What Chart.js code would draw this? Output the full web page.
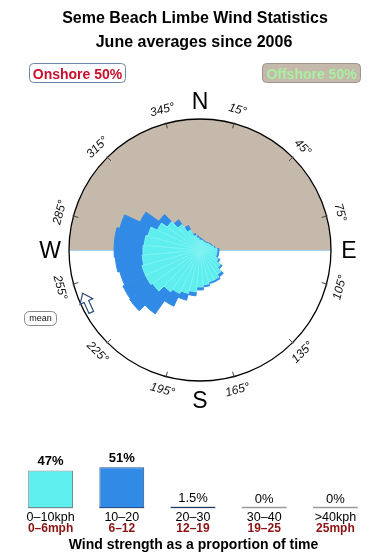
<!DOCTYPE html>
<html>
<head>
<meta charset="utf-8">
<script src="https://cdn.jsdelivr.net/npm/chart.js@4.4.1/dist/chart.umd.min.js"></script>
<style>
  body { margin: 0; background: #fff; }
  #wrap { position: relative; width: 390px; height: 560px; }
  #rose { position: absolute; left: 0; top: 0; }
  #bars { position: absolute; left: 0; top: 420px; }
</style>
</head>
<body>
<div id="wrap">
  <canvas id="rose" width="390" height="420"></canvas>
  <canvas id="bars" width="390" height="140"></canvas>
</div>
<script>
// rose: direction bins (degrees), extent as % of the circle radius
const directions = [0, 10, 20, 30, 40, 50, 60, 70, 80, 90, 100, 110, 120, 130, 140, 150, 160, 170,
  180, 190, 200, 210, 220, 230, 240, 250, 260, 270, 280, 290, 300, 310, 320, 330, 340, 350];
// 0-10 kph part
const rose0to10 = [7.6, 7.6, 6.9, 6.9, 6.9, 7.6, 8.4, 9.2, 10.7, 13, 13, 13, 15.3, 19.1, 22.9, 25.2, 25.2, 26.7,
  28.2, 32.1, 34.4, 36.6, 38.9, 44.3, 45.8, 45.8, 44.3, 43.5, 42.7, 41.2, 35.9, 30.5, 23.7, 16.8, 11.5, 9.2];
// 0-20 kph (outer edge of the dark blue)
const rose0to20 = [9.2, 8.4, 7.6, 7.6, 7.6, 8.4, 9.2, 9.9, 11.5, 14.5, 14.5, 14.5, 16.8, 20.6, 25.2, 26.7, 26.7, 28.2,
  30.5, 35.1, 39.7, 47.3, 59.5, 65.6, 64.9, 63.4, 64.9, 65.6, 65.6, 63.4, 50.4, 38.2, 28.2, 20.6, 13, 10.7];

const compassTicks = [15, 45, 75, 105, 135, 165, 195, 225, 255, 285, 315, 345];
const onshoreShare = 50;
const offshoreShare = 50;

// bottom bars
const kphLabels = ['0\u201310kph', '10\u201320', '20\u201330', '30\u201340', '>40kph'];
const mphLabels = ['0\u20136mph', '6\u201312', '12\u201319', '19\u201325', '25mph'];
const speedShares = [47, 51, 1.5, 0, 0];

const FONT = '"Liberation Sans", Arial, sans-serif';
const TAN = '#c4b9ab';
const CYAN = '#5eeeee';
const BLUE = '#318be6';

function roundBox(ctx, x, y, w, h, r, fill, stroke) {
  ctx.beginPath();
  ctx.roundRect(x, y, w, h, r);
  ctx.fillStyle = fill;
  ctx.fill();
  ctx.strokeStyle = stroke;
  ctx.lineWidth = 1;
  ctx.stroke();
}

const roseDecor = {
  id: 'roseDecor',
  beforeDatasetsDraw(chart) {
    const s = chart.scales.r;
    const ctx = chart.ctx;
    const cx = s.xCenter, cy = s.yCenter, R = s.drawingArea;
    ctx.save();
    // offshore half
    ctx.beginPath();
    ctx.moveTo(cx - R, cy);
    ctx.arc(cx, cy, R, Math.PI, 2 * Math.PI);
    ctx.closePath();
    ctx.fillStyle = TAN;
    ctx.fill();
    ctx.beginPath();
    ctx.moveTo(cx - R, cy + 0.5);
    ctx.lineTo(cx + R, cy + 0.5);
    ctx.strokeStyle = '#a9d3ee';
    ctx.lineWidth = 1;
    ctx.stroke();
    ctx.restore();
  },
  afterDatasetsDraw(chart) {
    const s = chart.scales.r;
    const ctx = chart.ctx;
    const cx = s.xCenter, cy = s.yCenter, R = s.drawingArea;
    ctx.save();
    // circle
    ctx.beginPath();
    ctx.arc(cx, cy, R, 0, 2 * Math.PI);
    ctx.strokeStyle = '#000';
    ctx.lineWidth = 1.3;
    ctx.stroke();

    // ticks + degree labels
    ctx.font = 'italic 12px ' + FONT;
    ctx.textAlign = 'center';
    ctx.textBaseline = 'middle';
    ctx.fillStyle = '#111';
    compassTicks.forEach(b => {
      const a = b * Math.PI / 180;
      const sx = Math.sin(a), sy = -Math.cos(a);
      ctx.beginPath();
      ctx.moveTo(cx + sx * (R - 5), cy + sy * (R - 5));
      ctx.lineTo(cx + sx * (R + 1), cy + sy * (R + 1));
      ctx.strokeStyle = '#444';
      ctx.lineWidth = 1;
      ctx.stroke();
      const rot = (b > 90 && b < 270) ? b - 180 : b;
      ctx.save();
      ctx.translate(cx + sx * (R + 14), cy + sy * (R + 14));
      ctx.rotate(rot * Math.PI / 180);
      ctx.fillText(b + '\u00b0', 0, 0);
      ctx.restore();
    });

    // N E S W
    ctx.font = '23px ' + FONT;
    ctx.fillStyle = '#000';
    ctx.textBaseline = 'alphabetic';
    ctx.fillText('N', cx, cy - R - 18 + 8);
    ctx.fillText('S', cx, cy + R + 19 + 8);
    ctx.fillText('W', cx - R - 19, cy + 8);
    ctx.fillText('E', cx + R + 18, cy + 8);

    // mean direction arrow
    ctx.beginPath();
    [[82.7, 293.3], [92.8, 298.6], [88.7, 300.5], [93.6, 311.4], [89.0, 313.4], [84.1, 302.5], [80.0, 304.4]]
      .forEach((p, i) => i ? ctx.lineTo(p[0], p[1]) : ctx.moveTo(p[0], p[1]));
    ctx.closePath();
    ctx.fillStyle = '#fff';
    ctx.fill();
    ctx.strokeStyle = '#2b4f7c';
    ctx.lineWidth = 1.2;
    ctx.stroke();

    roundBox(ctx, 24.5, 311.5, 32, 14, 5, '#fff', '#888');
    ctx.font = '9px ' + FONT;
    ctx.fillStyle = '#111';
    ctx.textBaseline = 'middle';
    ctx.fillText('mean', 40.5, 319);

    // title
    ctx.textBaseline = 'alphabetic';
    ctx.font = 'bold 16px ' + FONT;
    ctx.fillStyle = '#000';
    ctx.fillText('Seme Beach Limbe Wind Statistics', 195, 23);
    ctx.fillText('June averages since 2006', 194, 47);

    // onshore / offshore boxes
    roundBox(ctx, 29.5, 63.5, 96, 19, 4, '#fff', '#6d87a8');
    roundBox(ctx, 262.5, 63.5, 98, 19, 4, TAN, '#9c968c');
    ctx.font = 'bold 14px ' + FONT;
    ctx.fillStyle = '#c8102e';
    ctx.fillText('Onshore ' + onshoreShare + '%', 77.5, 78.5);
    ctx.fillStyle = '#a9f0a0';
    ctx.fillText('Offshore ' + offshoreShare + '%', 311.5, 78.5);
    ctx.restore();
  }
};

new Chart(document.getElementById('rose'), {
  type: 'polarArea',
  data: {
    labels: directions.map(d => d + '\u00b0'),
    datasets: [
      { label: '0-10 kph', data: rose0to10, backgroundColor: CYAN, borderColor: '#7ff3f3', borderWidth: 1 },
      { label: '10-20 kph', data: rose0to20, backgroundColor: BLUE, borderColor: BLUE, borderWidth: 1 }
    ]
  },
  options: {
    responsive: false,
    animation: false,
    layout: { padding: { left: 69, right: 59, top: 119, bottom: 39 } },
    plugins: { legend: { display: false }, tooltip: { enabled: false } },
    scales: {
      r: {
        min: 0,
        max: 100,
        startAngle: -5,
        ticks: { display: false },
        grid: { display: false },
        angleLines: { display: false },
        pointLabels: { display: false }
      }
    }
  },
  plugins: [roseDecor]
});

const barDecor = {
  id: 'barDecor',
  beforeDatasetsDraw(chart) {
    const ctx = chart.ctx;
    const meta = chart.getDatasetMeta(0);
    const base = chart.scales.y.getPixelForValue(0);
    ctx.save();
    meta.data.forEach(bar => {
      ctx.beginPath();
      ctx.moveTo(bar.x - bar.width / 2, base - 0.5);
      ctx.lineTo(bar.x + bar.width / 2, base - 0.5);
      ctx.strokeStyle = '#9a9a9a';
      ctx.lineWidth = 1.5;
      ctx.stroke();
    });
    ctx.restore();
  },
  afterDraw(chart) {
    const ctx = chart.ctx;
    const meta = chart.getDatasetMeta(0);
    const base = chart.scales.y.getPixelForValue(0);
    ctx.save();
    ctx.textAlign = 'center';
    ctx.textBaseline = 'alphabetic';
    meta.data.forEach((bar, i) => {
      ctx.fillStyle = '#000';
      ctx.font = (speedShares[i] >= 10 ? 'bold ' : '') + '13px ' + FONT;
      ctx.fillText(speedShares[i] + '%', bar.x, bar.y - 5);
      ctx.font = '12.5px ' + FONT;
      ctx.fillText(kphLabels[i], bar.x, base + 13);
      ctx.font = 'bold 12px ' + FONT;
      ctx.fillStyle = '#8b1212';
      ctx.fillText(mphLabels[i], bar.x, base + 24);
    });
    ctx.font = 'bold 14px ' + FONT;
    ctx.fillStyle = '#000';
    ctx.fillText('Wind strength as a proportion of time', 193.5, base + 41);
    ctx.restore();
  }
};

new Chart(document.getElementById('bars'), {
  type: 'bar',
  data: {
    labels: kphLabels,
    datasets: [{
      data: speedShares,
      backgroundColor: [CYAN, BLUE, BLUE, BLUE, BLUE],
      borderColor: ['#6f8c8c', '#26508c', '#1d3a6e', '#999', '#999'],
      borderWidth: 1,
      borderSkipped: false,
      barPercentage: 0.63,
      categoryPercentage: 1
    }]
  },
  options: {
    responsive: false,
    animation: false,
    layout: { padding: { left: 15, right: 19, top: 8, bottom: 52 } },
    plugins: { legend: { display: false }, tooltip: { enabled: false } },
    scales: {
      x: { display: false },
      y: { display: false, min: 0, max: 100 }
    }
  },
  plugins: [barDecor]
});
</script>
</body>
</html>
